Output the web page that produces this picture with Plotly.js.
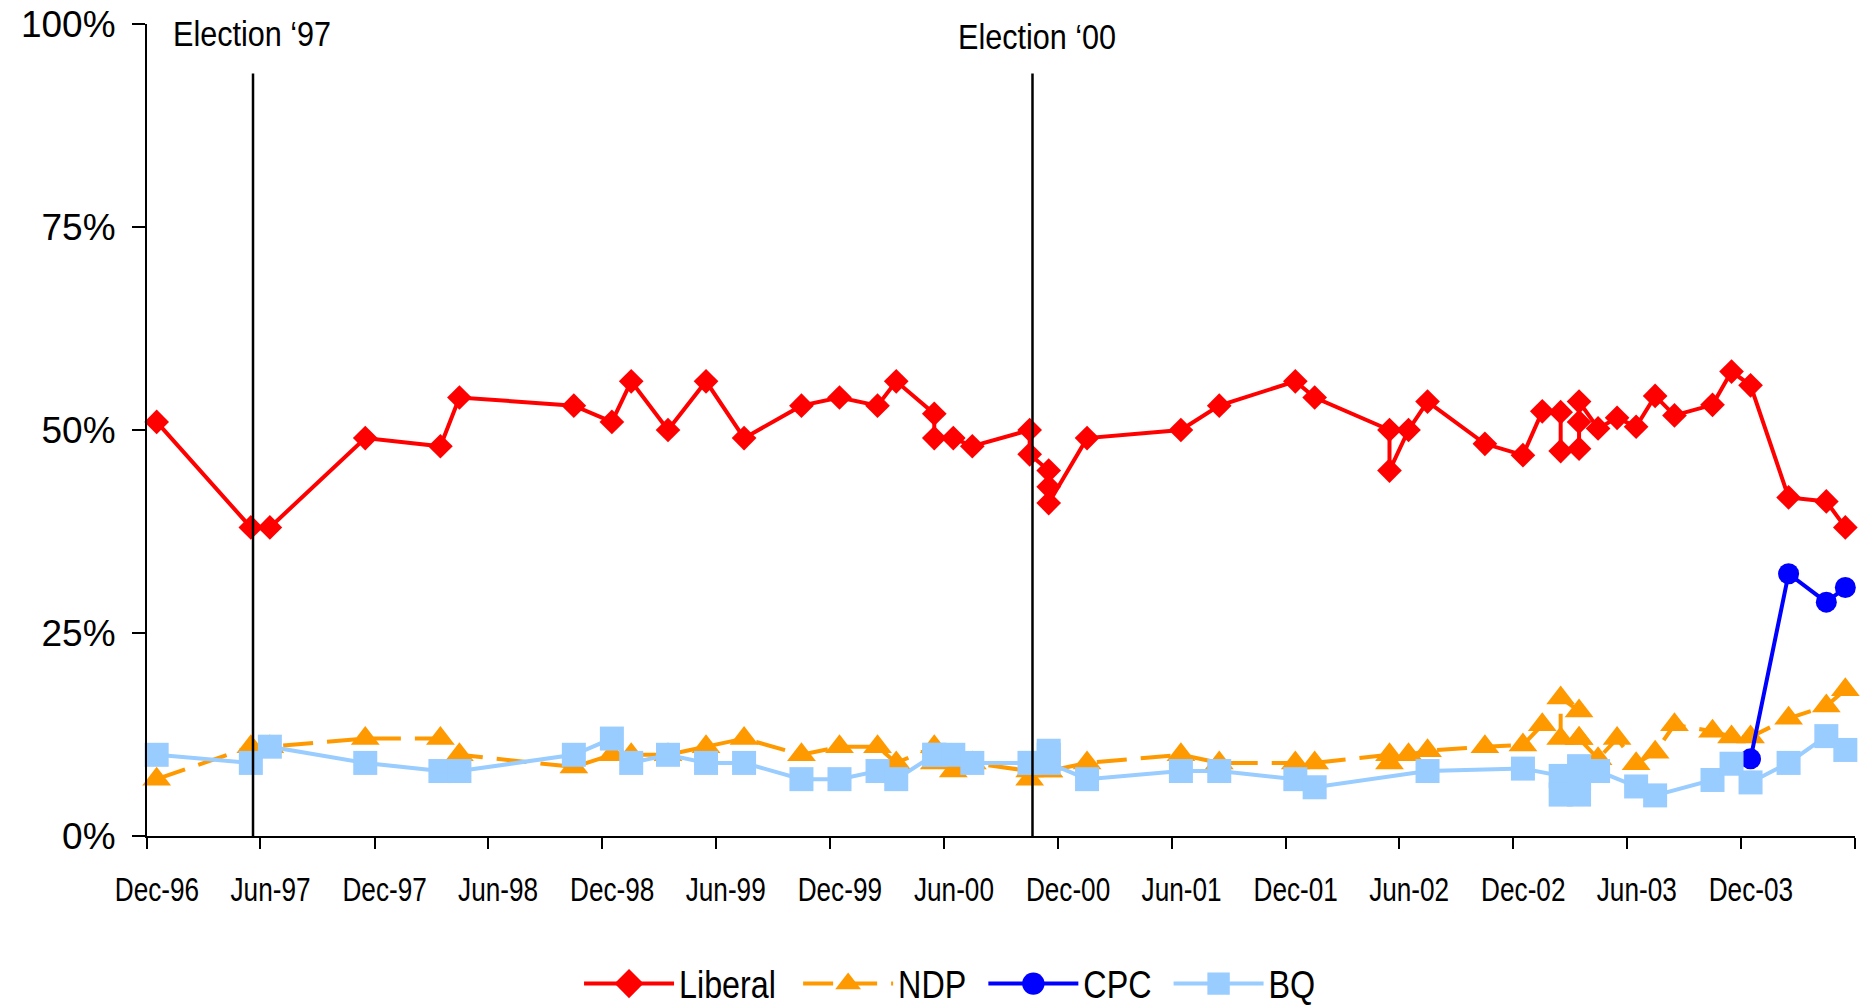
<!DOCTYPE html>
<html>
<head>
<meta charset="utf-8">
<script src="https://cdn.plot.ly/plotly-3.0.1.min.js"></script>
<style>
  html, body { margin: 0; padding: 0; background: #ffffff; }
  #chart { width: 1867px; height: 1005px; }
</style>
</head>
<body>
<div id="chart"></div>
<script>
// ---- Data (poll month, vote share %) ----
const pollMonths = [
  '1996-12','1997-05','1997-06','1997-11','1998-03','1998-04','1998-10','1998-12','1999-01','1999-03',
  '1999-05','1999-07','1999-10','1999-12','2000-02','2000-03','2000-05','2000-05','2000-06','2000-07',
  '2000-10','2000-10','2000-11','2000-11','2000-11','2001-01','2001-06','2001-08','2001-12','2002-01',
  '2002-05','2002-05','2002-06','2002-07','2002-10','2002-12','2003-01','2003-02','2003-02','2003-03',
  '2003-03','2003-03','2003-04','2003-05','2003-06','2003-07','2003-08','2003-10','2003-11','2003-12',
  '2004-02','2004-04','2004-05'
];

const liberal = [
  51, 38, 38, 49, 48, 54, 53, 51, 56, 50,
  56, 49, 53, 54, 53, 56, 52, 49, 49, 48,
  50, 47, 45, 43, 41, 49, 50, 53, 56, 54,
  50, 45, 50, 53.5, 48.3, 46.9, 52.3, 52.2, 47.4, 47.7,
  51, 53.5, 50.2, 51.5, 50.4, 54.2, 51.8, 53.1, 57.2, 55.5,
  41.7, 41.2, 38
];

const ndp = [
  7, 11, 11, 12, 12, 10, 8.5, 10, 10, 10,
  11, 12, 10, 11, 11, 9, 11, 9, 8, 9,
  8, 7, 9, 8, 8, 9, 10, 9, 9, 9,
  10, 9, 10, 10.5, 11, 11.2, 13.7, 12, 17, 15.4,
  12, 12, 9.5, 12, 8.9, 10.3, 13.7, 12.9, 12.2, 12.2,
  14.5, 16, 18
];

const cpc = [
  null, null, null, null, null, null, null, null, null, null,
  null, null, null, null, null, null, null, null, null, null,
  null, null, null, null, null, null, null, null, null, null,
  null, null, null, null, null, null, null, null, null, null,
  null, null, null, null, null, null, null, null, null, 9.5,
  32.3, 28.8, 30.6
];

const bq = [
  10, 9, 11, 9, 8, 8, 10, 12, 9, 10,
  9, 9, 7, 7, 8, 7, 10, 10, 10, 9,
  9, 9, 10.5, 10, 9, 7, 8, 8, 7, 6,
  null, null, null, 8, null, 8.3, null, 7.4, 5.1, 5.1,
  8.6, 7, 8, null, 6.1, 5, null, 6.9, 8.9, 6.6,
  9, 12.3, 10.6
];

const electionDates = ['1997-05-20', '2000-10-21'];
const electionLabels = ['Election \u201897', 'Election \u201800'];

const tickDates = [
  '1996-12-01','1997-06-01','1997-12-01','1998-06-01','1998-12-01','1999-06-01','1999-12-01','2000-06-01',
  '2000-12-01','2001-06-01','2001-12-01','2002-06-01','2002-12-01','2003-06-01','2003-12-01','2004-06-01'
];
const tickLabels = [
  'Dec-96','Jun-97','Dec-97','Jun-98','Dec-98','Jun-99','Dec-99','Jun-00',
  'Dec-00','Jun-01','Dec-01','Jun-02','Dec-02','Jun-03','Dec-03',''
];
const yTicks = [0, 25, 50, 75, 100];
const yTickLabels = ['0%', '25%', '50%', '75%', '100%'];

// ---- Styling ----
const FONT = 'Liberation Sans, Arial, sans-serif';

function series(name, y, color, symbol, msize, dash) {
  return {
    type: 'scatter',
    mode: 'lines+markers',
    name: name,
    x: pollMonths,
    y: y,
    xperiod: 'M1',
    xperiodalignment: 'middle',
    connectgaps: true,
    line: { color: color, width: 4, dash: dash || 'solid' },
    marker: { color: color, symbol: symbol, size: msize, line: { width: 0 } },
    cliponaxis: false
  };
}

const traces = [
  series('Liberal', liberal, '#FF0000', 'diamond', 19),
  series('NDP', ndp, '#FF9900', 'triangle-up', 25, '30px,14px'),
  series('CPC', cpc, '#0000FF', 'circle', 21),
  series('BQ', bq, '#99CCFF', 'square', 24)
];

const shapes = electionDates.map(d => ({
  type: 'line', xref: 'x', yref: 'y',
  x0: d, x1: d, y0: 0, y1: 93.9,
  line: { color: '#000000', width: 2.5 },
  layer: 'above'
}));

const annXShift = [-1, 5];
const annYShift = [-9, -12];
const annotations = electionDates.map((d, i) => ({
  xref: 'x', yref: 'y', x: d, y: 100,
  xanchor: 'center', yanchor: 'middle',
  xshift: annXShift[i], yshift: annYShift[i],
  text: electionLabels[i], showarrow: false,
  font: { family: FONT, size: 36, color: '#000000' }
}));

const layout = {
  width: 1867, height: 1005,
  paper_bgcolor: '#ffffff', plot_bgcolor: '#ffffff',
  margin: { l: 147, r: 12, t: 24, b: 169, pad: 0 },
  font: { family: FONT, color: '#000000' },
  showlegend: true,
  legend: {
    orientation: 'h',
    xref: 'container', yref: 'container',
    x: 0.511, xanchor: 'center',
    y: 0.021, yanchor: 'middle',
    font: { family: FONT, size: 38, color: '#000000' },
    itemwidth: 90,
    bgcolor: 'rgba(0,0,0,0)'
  },
  xaxis: {
    type: 'date',
    range: ['1996-12-01', '2004-06-01'],
    tickmode: 'array',
    tickvals: tickDates,
    ticktext: tickLabels,
    ticks: 'outside', ticklen: 11, tickwidth: 2, tickcolor: '#000000',
    showline: true, linewidth: 2, linecolor: '#000000',
    showgrid: false, zeroline: false,
    tickfont: { family: FONT, size: 34, color: '#000000' },
    ticklabelshift: 10,
    ticklabelstandoff: 11
  },
  yaxis: {
    range: [0, 100],
    tickmode: 'array',
    tickvals: yTicks,
    ticktext: yTickLabels,
    ticks: 'outside', ticklen: 13, tickwidth: 2, tickcolor: '#000000',
    showline: true, linewidth: 2, linecolor: '#000000',
    showgrid: false, zeroline: false,
    tickfont: { family: FONT, size: 37, color: '#000000' },
    ticklabelstandoff: 9
  },
  shapes: shapes,
  annotations: annotations
};

// Condense text horizontally (the reference uses a narrow-looking face)
function condense(root, selector, sx, anchorStart) {
  root.querySelectorAll(selector).forEach(t => {
    const b = t.getBBox();
    if (!b.width) return;
    const cx = anchorStart ? b.x : b.x + b.width / 2;
    const cy = b.y + b.height / 2;
    const prev = t.getAttribute('transform') || '';
    t.setAttribute('transform',
      prev + ' translate(' + cx + ',' + cy + ') scale(' + sx + ',1) translate(' + (-cx) + ',' + (-cy) + ')');
  });
}

// Enlarge legend symbols (Plotly caps legend marker size)
function enlargeLegendMarkers(root, k) {
  root.querySelectorAll('.legendpoints path.scatterpts').forEach(p => {
    const prev = p.getAttribute('transform') || '';
    p.setAttribute('transform', prev + ' scale(' + k + ')');
  });
}

const gd = document.getElementById('chart');
Plotly.newPlot(gd, traces, layout, { staticPlot: true, displayModeBar: false }).then(() => {
  condense(gd, '.xtick text', 0.77, false);
  condense(gd, '.annotation-text', 0.85, false);
  condense(gd, '.legendtext', 0.85, true);
  enlargeLegendMarkers(gd, 1.4);
});
</script>
</body>
</html>
